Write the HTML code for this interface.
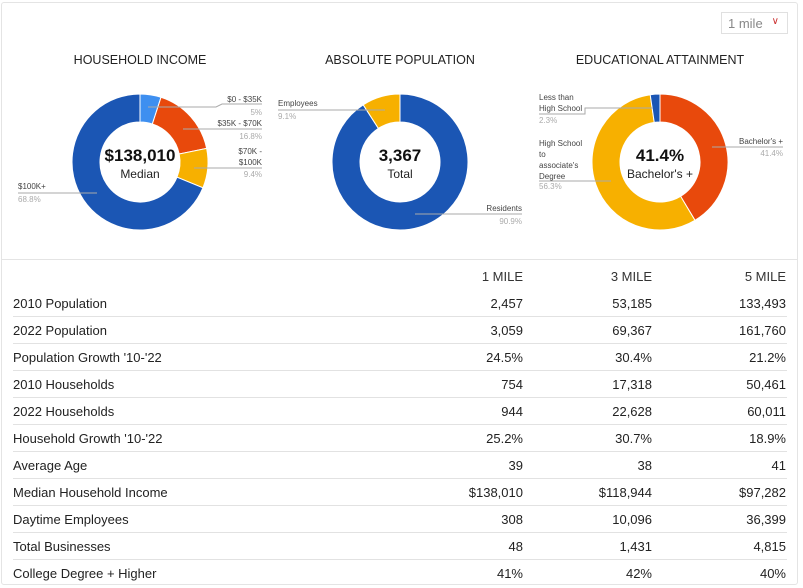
<!DOCTYPE html>
<html><head><meta charset="utf-8"><style>
body{margin:0;width:803px;height:588px;background:#fff;font-family:"Liberation Sans",sans-serif;overflow:hidden;position:relative}
.card{position:absolute;left:1px;top:2px;width:797px;height:583px;border:1px solid #e4e4e4;border-radius:3px;box-sizing:border-box}
.sep{position:absolute;left:1px;width:797px;top:259px;height:1px;background:#e4e4e4}
.t{position:absolute;font-size:13px;color:#222}
.r{text-align:right}
.row{position:absolute;left:13px;width:774px;height:1px;background:#e2e2e2}
.sel{position:absolute;left:721px;top:12px;width:67px;height:22px;border:1px solid #e0e0e0;box-sizing:border-box;font-size:13px;color:#888;padding:3px 0 0 6px}
</style></head><body>
<div class="card"></div>
<div class="sep"></div>
<div class="sel">1 mile<span style="position:absolute;right:8px;top:3px;color:#c33;font-size:10px">&#8744;</span></div>
<svg id="s" width="803" height="260" style="position:absolute;left:0;top:0" font-family="Liberation Sans, sans-serif">
<g font-size="12.5" fill="#222" text-anchor="middle">
<text x="140" y="64">HOUSEHOLD INCOME</text>
<text x="400" y="64">ABSOLUTE POPULATION</text>
<text x="660" y="64">EDUCATIONAL ATTAINMENT</text>
</g>
</svg>
<div id="tbl"></div>
<script>
var s=document.getElementById('s'),NS='http://www.w3.org/2000/svg';
function el(t,a,txt){var e=document.createElementNS(NS,t);for(var k in a)e.setAttribute(k,a[k]);if(txt)e.textContent=txt;s.appendChild(e);return e;}
function donut(cx,cy,segs){var R=68,r=40,a=0;segs.forEach(function(g){var a0=a*2*Math.PI/100,a1=(a+g[0])*2*Math.PI/100;a+=g[0];
var p=function(rr,an){return (cx+rr*Math.sin(an)).toFixed(2)+','+(cy-rr*Math.cos(an)).toFixed(2)};var lg=(a1-a0)>Math.PI?1:0;
el('path',{d:'M'+p(R,a0)+' A'+R+','+R+' 0 '+lg+' 1 '+p(R,a1)+' L'+p(r,a1)+' A'+r+','+r+' 0 '+lg+' 0 '+p(r,a0)+'Z',fill:g[1],stroke:'#fff','stroke-width':1});});}
var DB='#1b56b4',LB='#3e8ff0',OR='#e8490c',YE='#f7b000';
donut(140,162,[[5,LB],[16.8,OR],[9.4,YE],[68.8,DB]]);
donut(400,162,[[90.9,DB],[9.1,YE]]);
donut(660,162,[[41.4,OR],[56.3,YE],[2.3,DB]]);
function line(pts){el('polyline',{points:pts,fill:'none',stroke:'#aaa','stroke-width':1});}
function lab(x,y,t,anchor,col,fs){el('text',{x:x,y:y,'font-size':fs||8,fill:col||'#444','text-anchor':anchor||'start'},t);}
// household
line('148,107 216,107 222,104 262,104');lab(262,102,'$0 - $35K','end');lab(262,115,'5%','end','#aaa');
line('183,129 262,129');lab(262,126,'$35K - $70K','end');lab(262,139,'16.8%','end','#aaa');
line('194,168 262,168');lab(262,154,'$70K -','end');lab(262,165,'$100K','end');lab(262,177,'9.4%','end','#aaa');
line('18,193 97,193');lab(18,189,'$100K+');lab(18,202,'68.8%','start','#aaa');
el('text',{x:140,y:161,'font-size':17,'font-weight':'bold','text-anchor':'middle',fill:'#111'},'$138,010');
el('text',{x:140,y:178,'font-size':12,'text-anchor':'middle',fill:'#222'},'Median');
// population
line('278,110 385,110');lab(278,106,'Employees');lab(278,119,'9.1%','start','#aaa');
line('415,214 522,214');lab(522,211,'Residents','end');lab(522,224,'90.9%','end','#aaa');
el('text',{x:400,y:161,'font-size':17,'font-weight':'bold','text-anchor':'middle',fill:'#111'},'3,367');
el('text',{x:400,y:178,'font-size':12,'text-anchor':'middle',fill:'#222'},'Total');
// education
line('539,114 585,114 585,108 653,108');lab(539,100,'Less than');lab(539,111,'High School');lab(539,123,'2.3%','start','#aaa');
line('712,147 783,147');lab(783,144,"Bachelor's +",'end');lab(783,156,'41.4%','end','#aaa');
line('539,181 611,181');lab(539,146,'High School');lab(539,157,'to');lab(539,168,"associate's");lab(539,179,'Degree');lab(539,189,'56.3%','start','#aaa');
el('text',{x:660,y:161,'font-size':17,'font-weight':'bold','text-anchor':'middle',fill:'#111'},'41.4%');
el('text',{x:660,y:178,'font-size':12,'text-anchor':'middle',fill:'#222'},"Bachelor's +");
// table
var rows=[["2010 Population","2,457","53,185","133,493"],["2022 Population","3,059","69,367","161,760"],["Population Growth '10-'22","24.5%","30.4%","21.2%"],["2010 Households","754","17,318","50,461"],["2022 Households","944","22,628","60,011"],["Household Growth '10-'22","25.2%","30.7%","18.9%"],["Average Age","39","38","41"],["Median Household Income","$138,010","$118,944","$97,282"],["Daytime Employees","308","10,096","36,399"],["Total Businesses","48","1,431","4,815"],["College Degree + Higher","41%","42%","40%"]];
var h='';var cols=[523,652,786];
['1 MILE','3 MILE','5 MILE'].forEach(function(c,i){h+='<div class="t r" style="top:269px;left:'+(cols[i]-100)+'px;width:100px;color:#333">'+c+'</div>';});
rows.forEach(function(r,k){var y=296+k*27;h+='<div class="t" style="left:13px;top:'+y+'px">'+r[0]+'</div>';
for(var i=0;i<3;i++)h+='<div class="t r" style="top:'+y+'px;left:'+(cols[i]-100)+'px;width:100px">'+r[i+1]+'</div>';
if(k<10)h+='<div class="row" style="top:'+(316+k*27)+'px"></div>';});
document.getElementById('tbl').innerHTML=h;
</script>
</body></html>
